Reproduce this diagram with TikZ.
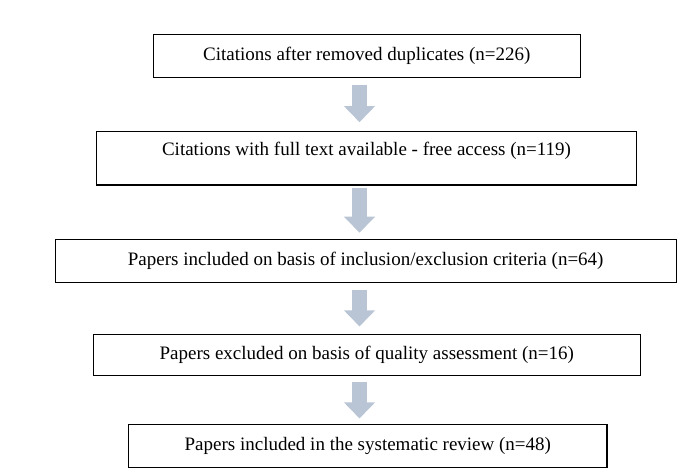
\documentclass[tikz,border=0pt]{standalone}
\usepackage{fontspec}
\setmainfont{Liberation Serif}
\usetikzlibrary{arrows.meta}
\definecolor{arrowgray}{RGB}{185,197,213}
\begin{document}
\begin{tikzpicture}[x=1bp,y=-1bp,
  box/.style={draw=black, line width=1.1bp, rectangle, inner sep=0pt, font=\fontsize{19bp}{22bp}\selectfont, anchor=center},
  flowarrow/.style={draw=arrowgray, line width=15bp, -{Triangle[width=30bp,length=16bp]}}]
\useasboundingbox (0,0) rectangle (690,471);
\node[box, minimum width=427bp, minimum height=43bp] (b1) at (366.8,55.8) {Citations after removed duplicates (n=226)};
\node[box, minimum width=540.4bp, minimum height=53.7bp, text height=13bp, text depth=17.4bp] (b2) at (366.5,158.2) {Citations with full text available - free access (n=119)};
\node[box, minimum width=620.7bp, minimum height=43bp] (b3) at (365.7,260.8) {Papers included on basis of inclusion/exclusion criteria (n=64)};
\node[box, minimum width=547bp, minimum height=41bp] (b4) at (366.8,354.8) {Papers excluded on basis of quality assessment (n=16)};
\node[box, minimum width=478.3bp, minimum height=43bp] (b5) at (367.8,445.8) {Papers included in the systematic review (n=48)};
\coordinate (ax) at (359.5,0);
\draw[flowarrow] ([yshift=-6.7bp]b1.south -| ax) -- ([yshift=8.6bp]b2.north -| ax);
\draw[flowarrow] ([yshift=-2.5bp]b2.south -| ax) -- ([yshift=6bp]b3.north -| ax);
\draw[flowarrow] ([yshift=-7bp]b3.south -| ax) -- ([yshift=7.3bp]b4.north -| ax);
\draw[flowarrow] ([yshift=-5.7bp]b4.south -| ax) -- ([yshift=5.3bp]b5.north -| ax);
\end{tikzpicture}
\end{document}
